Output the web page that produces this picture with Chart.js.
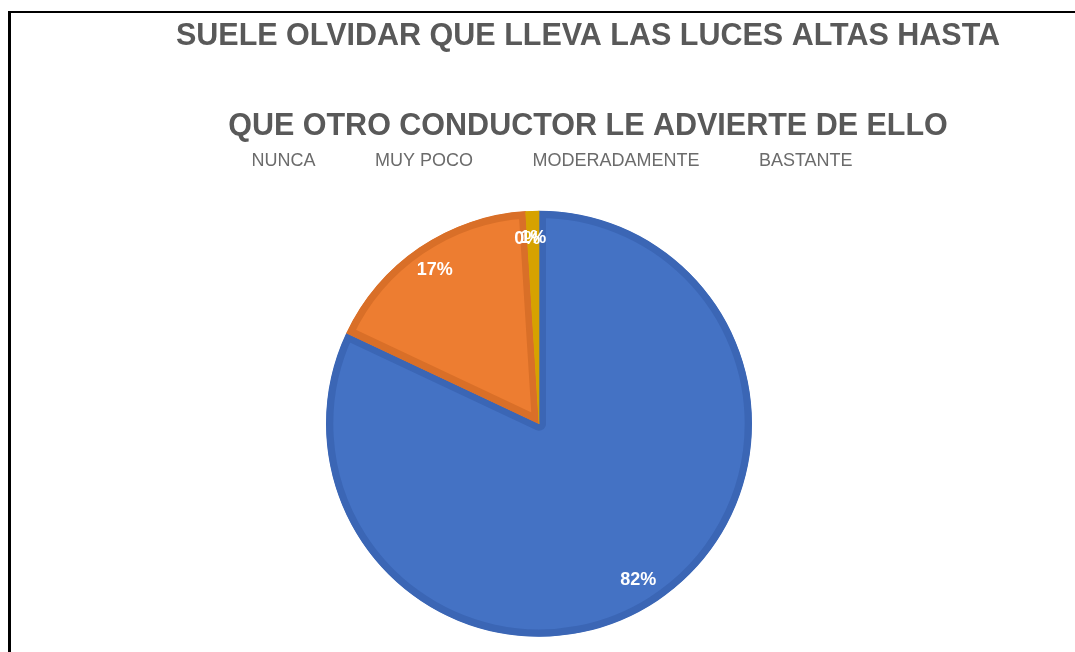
<!DOCTYPE html>
<html lang="es">
<head>
  <meta charset="UTF-8" />
  <title>Luces altas</title>
  <style>
    html, body {
      margin: 0;
      padding: 0;
      background: #fff;
      overflow: hidden;
      width: 1075px;
      height: 652px;
    }
    #frame {
      position: absolute;
      left: 8px;
      top: 11px;
      width: 2000px;
      height: 2000px;
      border-left: 3px solid #000;
      border-top: 2px solid #000;
    }
    #chart {
      position: absolute;
      left: 0;
      top: 0;
    }
  </style>
</head>
<body>
  <div id="frame"></div>
  <canvas id="chart" width="1176" height="680"></canvas>

  <script src="https://cdn.jsdelivr.net/npm/chart.js"></script>
  <script>
    const titleLines = ["SUELE OLVIDAR QUE LLEVA LAS LUCES ALTAS HASTA", "QUE OTRO CONDUCTOR LE ADVIERTE DE ELLO"];
    const categories = ["NUNCA", "MUY POCO", "MODERADAMENTE", "BASTANTE"];
    const percents = [82, 17, 0, 1];
    const fillColors = ["#4472C4", "#ED7D31", "#A5A5A5", "#E8B00C"];
    const edgeColors = ["#3B66B5", "#D96F28", "#959595", "#D6A200"];

    // white % labels inside the slices
    const sliceLabels = {
      id: "sliceLabels",
      afterDatasetsDraw(chart) {
        const ctx = chart.ctx;
        const arcs = chart.getDatasetMeta(0).data;
        ctx.save();
        ctx.fillStyle = "#ffffff";
        ctx.font = "bold 18px 'Liberation Sans', Arial, sans-serif";
        ctx.textAlign = "center";
        ctx.textBaseline = "middle";
        arcs.forEach((arc, i) => {
          const a = (arc.startAngle + arc.endAngle) / 2;
          const r = arc.outerRadius * 0.87;
          ctx.fillText(percents[i] + "%", arc.x + Math.cos(a) * r, arc.y + Math.sin(a) * r);
        });
        ctx.restore();
      }
    };

    new Chart(document.getElementById("chart"), {
      type: "pie",
      data: {
        labels: categories,
        datasets: [{
          data: percents,
          backgroundColor: fillColors,
          borderColor: edgeColors,
          borderWidth: 7,
          borderAlign: "inner"
        }]
      },
      options: {
        responsive: false,
        animation: false,
        radius: 213,
        layout: { padding: { top: 0, bottom: 13, left: 0, right: 0 } },
        // invisible side box so the pie sits left of the title centre
        scales: {
          pad: {
            type: "linear",
            position: "right",
            display: true,
            ticks: { display: false },
            grid: { display: false },
            border: { display: false },
            afterFit(s) { s.width = 98; }
          }
        },
        plugins: {
          title: {
            display: true,
            text: titleLines[0],
            color: "#595959",
            font: { family: "'Liberation Sans', Arial, sans-serif", size: 30.5, weight: "bold", lineHeight: 1.2 },
            padding: { top: 18, bottom: 0 }
          },
          subtitle: {
            display: true,
            text: titleLines[1],
            color: "#595959",
            font: { family: "'Liberation Sans', Arial, sans-serif", size: 30.5, weight: "bold", lineHeight: 0.1 },
            padding: { top: 70.3, bottom: -9 }
          },
          legend: {
            position: "top",
            fullSize: false,
            labels: {
              color: "#6b6b6b",
              font: { family: "'Liberation Sans', Arial, sans-serif", size: 18 },
              boxWidth: 17,
              padding: 33.5,
              generateLabels(chart) {
                return categories.map((c, i) => ({
                  text: c,
                  fontColor: "#6b6b6b",
                  fillStyle: "rgba(0,0,0,0)",
                  strokeStyle: "rgba(0,0,0,0)",
                  lineWidth: 0,
                  hidden: false,
                  index: i
                }));
              }
            }
          },
          tooltip: { enabled: false }
        }
      },
      plugins: [sliceLabels]
    });
  </script>
</body>
</html>
